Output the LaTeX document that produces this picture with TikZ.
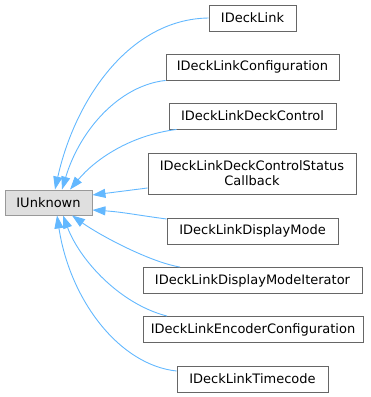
\documentclass[tikz,border=0pt]{standalone}
\usepackage{fontspec}
\setmainfont{DejaVu Sans}
\usepackage{xcolor}
\usepackage{tikz}
\usetikzlibrary{
	arrows.meta,
	positioning
}
\definecolor{EdgeBlue}{HTML}{63B8FF}
\definecolor{BoxLine}{HTML}{666666}
\definecolor{RootLine}{HTML}{999999}
\definecolor{RootFill}{HTML}{DFDFDF}

\tikzset{
	cls/.style={draw=BoxLine, line width=0.9pt, inner sep=0pt, minimum height=26pt,
		align=center, font=\fontsize{13}{15}\selectfont},
	root/.style={cls, draw=RootLine, fill=RootFill},
	inh/.style={draw=EdgeBlue, line width=0.9pt, arrows={Triangle[length=13pt,width=9pt]-}}
}

\begin{document}
\begin{tikzpicture}[x=1pt, y=-1pt]
		\useasboundingbox (0,0) rectangle (371,397);
		
		\node[root, minimum width=87pt, minimum height=25pt] (unk) at (48.5,202.5) {IUnknown};
		
		\node[cls, minimum width=87pt] (dl) at (252.5,18) {IDeckLink};
		\node[cls, minimum width=173pt] (dlc) at (252.5,67) {IDeckLinkConfiguration};
		\node[cls, minimum width=167pt] (dldc) at (252.5,116) {IDeckLinkDeckControl};
		\node[cls, minimum width=208pt, minimum height=41pt] (dldcs) at (252,173.5) {IDeckLinkDeckControlStatus\\Callback};
		\node[cls, minimum width=171pt] (dldm) at (252.5,231) {IDeckLinkDisplayMode};
		\node[cls, minimum width=219pt] (dldmi) at (252.5,280.5) {IDeckLinkDisplayModeIterator};
		\node[cls, minimum width=220pt] (dlec) at (253,329.5) {IDeckLinkEncoderConfiguration};
		\node[cls, minimum width=151pt] (dltc) at (252.5,379) {IDeckLinkTimecode};
		
		% edges into the top of the base class
		\draw[inh] ([xshift=6.5pt]unk.north) .. controls +(20,-90) and +(-79,1) .. (dl.west);
		\draw[inh] ([xshift=13.5pt]unk.north) .. controls +(18,-60) and +(-46,5) .. (dlc.south west);
		\draw[inh] ([xshift=21.5pt]unk.north) .. controls +(25,-30) and +(-47,6) .. ([xshift=8pt]dldc.south west);
		% edges into the right side
		\draw[inh] ([yshift=7.5pt]unk.east) -- ([yshift=-14.5pt]dldcs.west);
		\draw[inh] ([yshift=-7.5pt]unk.east) .. controls +(30,2) and +(-30,-4) .. ([yshift=12pt]dldm.west);
		% edges into the bottom
		\draw[inh] ([xshift=23.5pt]unk.south) .. controls +(28,20) and +(-30,-5) .. ([xshift=-72.5pt]dldmi.north);
		\draw[inh] ([xshift=14.5pt]unk.south) .. controls +(17,45) and +(-47,-12) .. ([xshift=-86pt]dlec.north);
		\draw[inh] ([xshift=8.5pt]unk.south) .. controls +(13,85) and +(-57,-6) .. ([yshift=8pt]dltc.west);
	\end{tikzpicture}
\end{document}
